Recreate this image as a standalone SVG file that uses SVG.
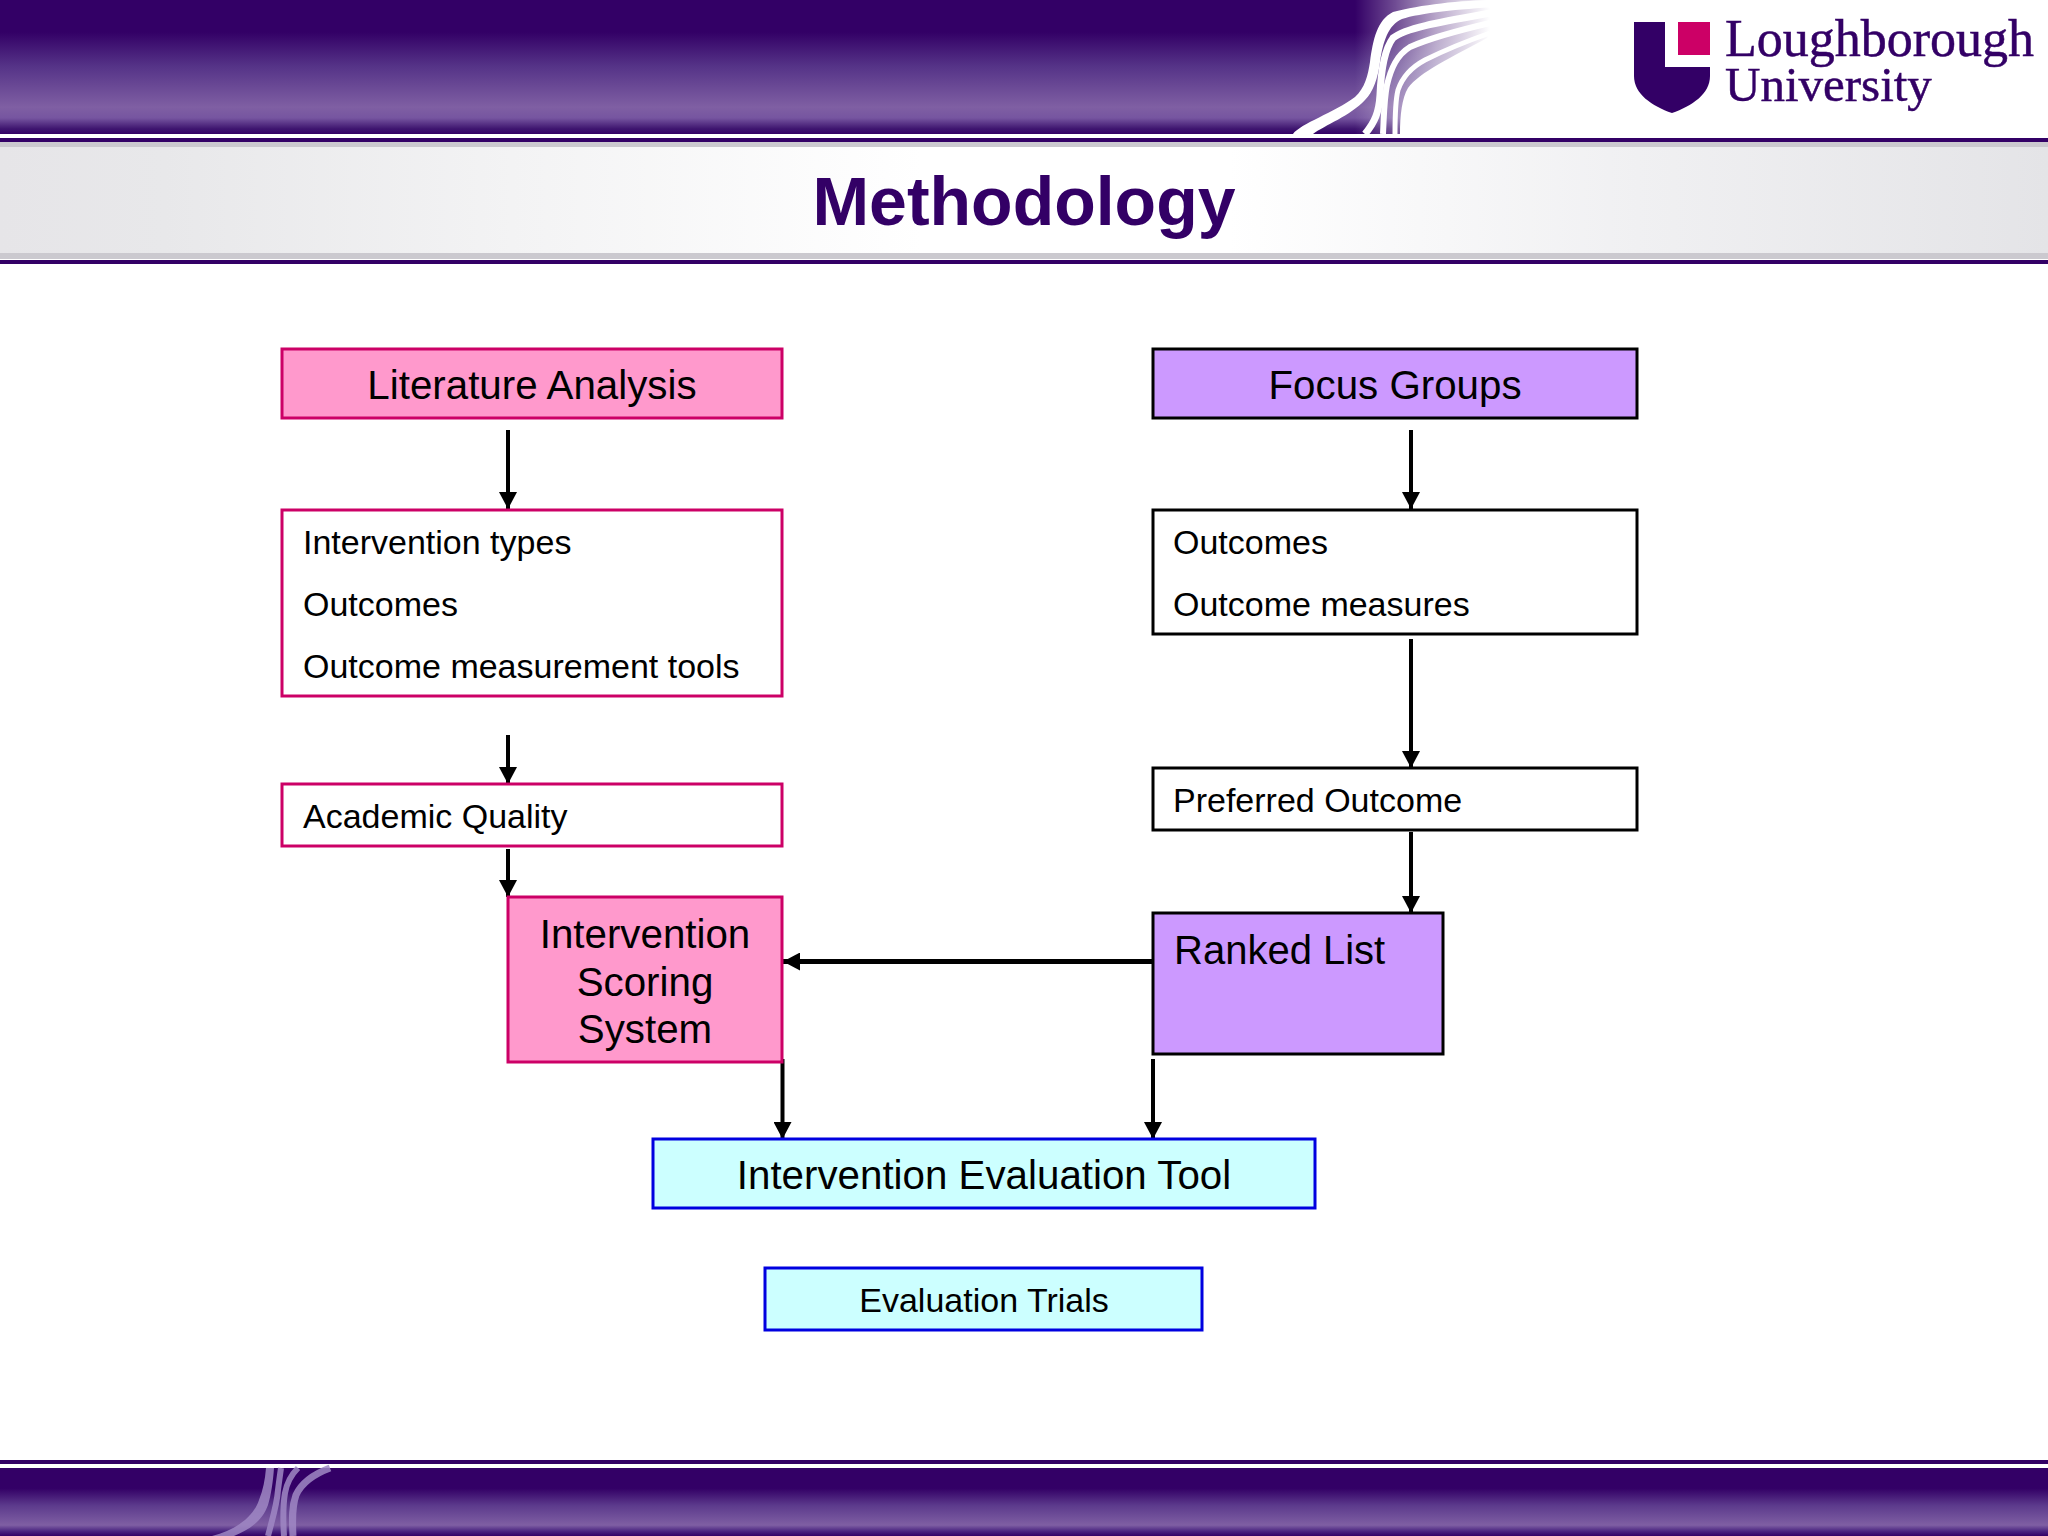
<svg xmlns="http://www.w3.org/2000/svg" width="2048" height="1536" viewBox="0 0 2048 1536">
<defs>
<linearGradient id="headBand" gradientUnits="userSpaceOnUse" x1="0" y1="0" x2="0" y2="134">
<stop offset="0" stop-color="#330066"/><stop offset="0.24" stop-color="#330066"/><stop offset="0.5" stop-color="#563488"/><stop offset="0.8" stop-color="#7f5fa3"/><stop offset="0.88" stop-color="#7655a0"/><stop offset="0.96" stop-color="#3f1670"/><stop offset="1" stop-color="#330066"/>
</linearGradient>
<linearGradient id="footBand" gradientUnits="userSpaceOnUse" x1="0" y1="1468" x2="0" y2="1536">
<stop offset="0" stop-color="#330066"/><stop offset="0.3" stop-color="#330066"/><stop offset="0.55" stop-color="#5c3a8c"/><stop offset="0.84" stop-color="#7f5fa3"/><stop offset="0.93" stop-color="#4a2480"/><stop offset="1" stop-color="#330066"/>
</linearGradient>
<linearGradient id="fadeTop" gradientUnits="userSpaceOnUse" x1="1355" y1="0" x2="1490" y2="0">
<stop offset="0" stop-color="#fff" stop-opacity="0"/><stop offset="0.3" stop-color="#fff" stop-opacity="0.3"/><stop offset="0.6" stop-color="#fff" stop-opacity="0.65"/><stop offset="1" stop-color="#fff" stop-opacity="1"/>
</linearGradient>
<linearGradient id="titleBand" x1="0" y1="0" x2="1" y2="0">
<stop offset="0" stop-color="#e6e5e8"/><stop offset="0.08" stop-color="#e8e8ea"/><stop offset="0.25" stop-color="#f3f3f4"/><stop offset="0.45" stop-color="#ffffff"/><stop offset="0.6" stop-color="#ffffff"/><stop offset="0.8" stop-color="#f0f0f2"/><stop offset="1" stop-color="#e4e4e7"/>
</linearGradient>
<marker id="arrow" viewBox="0 0 17 18" refX="17" refY="9" markerUnits="userSpaceOnUse" markerWidth="17" markerHeight="18" orient="auto">
<path d="M0 0L17 9L0 18Z" fill="#000"/>
</marker>
<style>
text{font-family:"Liberation Sans",Arial,sans-serif;fill:#000}
.big{font-size:40.3px}.small{font-size:34px}.mid{text-anchor:middle}
.pink{fill:#FF99CC;stroke:#CC0066;stroke-width:3}
.pinkw{fill:#fff;stroke:#CC0066;stroke-width:3}
.lilac{fill:#CC99FF;stroke:#000;stroke-width:3}
.blackw{fill:#fff;stroke:#000;stroke-width:3}
.cyan{fill:#CCFFFF;stroke:#0000E0;stroke-width:3}
.conn{stroke:#000;stroke-width:4;fill:none;marker-end:url(#arrow)}
.logo{font-family:"Liberation Serif","Times New Roman",serif;fill:#330066;stroke:#330066;stroke-width:0.5}
.fs{fill:none;stroke:#a088c4;stroke-opacity:.85}
</style>
</defs>
<rect width="2048" height="1536" fill="#fff"/>
<g id="header">
<path d="M0 0H1497V14L1487 38C1450 58 1420 72 1408 88C1402 98 1400 115 1400 134H0Z" fill="url(#headBand)"/>
<rect x="1355" y="0" width="145" height="134" fill="url(#fadeTop)"/>
<rect x="1490" y="0" width="20" height="134" fill="#fff"/>
<path d="M1293 134C1300 124 1335 112 1355 97C1365 88 1368 75 1370 62C1373 40 1377 20 1393 12C1420 5 1460 0 1497 0V7C1460 9 1420 13 1402 19C1388 25 1383 42 1380 62C1378 78 1373 92 1365 100C1350 116 1325 125 1313 134Z" fill="#fff"/>
<path d="M1365 134C1375 122 1379 112 1380 95C1381 70 1384 50 1393 38C1405 28 1440 22 1490 13" fill="none" stroke="#fff" stroke-width="7"/>
<path d="M1383 134C1384 115 1384 100 1387 85C1391 68 1397 55 1410 47C1430 38 1460 30 1490 23" fill="none" stroke="#fff" stroke-width="6"/>
<path d="M1395 134C1395 118 1395 102 1398 90C1402 78 1410 68 1425 60C1445 50 1470 40 1490 33" fill="none" stroke="#fff" stroke-width="5"/>
<rect x="0" y="138" width="2048" height="4" fill="#330066"/>
<rect x="0" y="142" width="2048" height="5" fill="#cbc9cf"/>
<rect x="0" y="147" width="2048" height="106" fill="url(#titleBand)"/>
<rect x="0" y="253" width="2048" height="6" fill="#cbc9cf"/>
<rect x="0" y="260" width="2048" height="4" fill="#330066"/>
</g>
<g id="logo">
<path d="M1634 22H1665V67H1710V76C1710 94 1692 106 1672 113C1652 106 1634 94 1634 76Z" fill="#330066"/>
<rect x="1678" y="22" width="32" height="33" fill="#CC0066"/>
<text class="logo" x="1725" y="56" font-size="52">Loughborough</text>
<text class="logo" x="1725" y="101" font-size="49">University</text>
</g>
<text id="title" x="1024" y="225" text-anchor="middle" font-size="68" font-weight="700" style="font-family:'Liberation Sans',Arial,sans-serif;fill:#330066">Methodology</text>
<g id="connectors">
<line class="conn" x1="508" y1="430" x2="508" y2="509"/>
<line class="conn" x1="508" y1="735" x2="508" y2="784"/>
<line class="conn" x1="508" y1="849" x2="508" y2="897"/>
<line class="conn" x1="1411" y1="430" x2="1411" y2="509"/>
<line class="conn" x1="1411" y1="639" x2="1411" y2="768"/>
<line class="conn" x1="1411" y1="832" x2="1411" y2="913"/>
<line class="conn" x1="1153" y1="961.5" x2="783" y2="961.5" style="stroke-width:5"/>
<line class="conn" x1="782.5" y1="1059" x2="782.5" y2="1139"/>
<line class="conn" x1="1153" y1="1059" x2="1153" y2="1139"/>
</g>
<g id="literature-analysis"><rect class="pink" x="282" y="349" width="500" height="69"/><text class="big mid" x="532" y="399">Literature Analysis</text></g>
<g id="lit-list"><rect class="pinkw" x="282" y="510" width="500" height="186"/><text class="small" x="303" y="554">Intervention types</text><text class="small" x="303" y="616">Outcomes</text><text class="small" x="303" y="678">Outcome measurement tools</text></g>
<g id="academic-quality"><rect class="pinkw" x="282" y="784" width="500" height="62"/><text class="small" x="303" y="828">Academic Quality</text></g>
<g id="focus-groups"><rect class="lilac" x="1153" y="349" width="484" height="69"/><text class="big mid" x="1395" y="399">Focus Groups</text></g>
<g id="focus-list"><rect class="blackw" x="1153" y="510" width="484" height="124"/><text class="small" x="1173" y="554">Outcomes</text><text class="small" x="1173" y="616">Outcome measures</text></g>
<g id="preferred-outcome"><rect class="blackw" x="1153" y="768" width="484" height="62"/><text class="small" x="1173" y="812">Preferred Outcome</text></g>
<g id="scoring-system"><rect class="pink" x="508" y="897" width="274" height="165"/><text class="big mid" x="645" y="948">Intervention</text><text class="big mid" x="645" y="996">Scoring</text><text class="big mid" x="645" y="1043">System</text></g>
<g id="ranked-list"><rect class="lilac" x="1153" y="913" width="290" height="141"/><text class="big" x="1174" y="964" style="font-size:40px">Ranked List</text></g>
<g id="evaluation-tool"><rect class="cyan" x="653" y="1139" width="662" height="69"/><text class="big mid" x="984" y="1189">Intervention Evaluation Tool</text></g>
<g id="evaluation-trials"><rect class="cyan" x="765" y="1268" width="437" height="62"/><text class="small mid" x="984" y="1312">Evaluation Trials</text></g>
<g id="footer">
<rect x="0" y="1460" width="2048" height="4" fill="#330066"/>
<rect x="0" y="1468" width="2048" height="68" fill="url(#footBand)"/>
<path d="M212 1536C235 1530 253 1518 259 1500C263 1490 265 1480 266 1468H274C273 1482 271 1495 268 1505C262 1522 248 1530 234 1536Z" fill="#a088c4" fill-opacity=".85"/>
<path class="fs" d="M268 1536C272 1520 277 1505 278 1490C279 1482 280 1475 281 1468" stroke-width="6"/>
<path class="fs" d="M284 1536C283 1520 283 1505 285 1493C287 1482 292 1474 298 1468" stroke-width="6"/>
<path class="fs" d="M293 1536C292 1518 292 1506 296 1495C302 1482 314 1474 330 1468" stroke-width="7"/>
</g>
</svg>
